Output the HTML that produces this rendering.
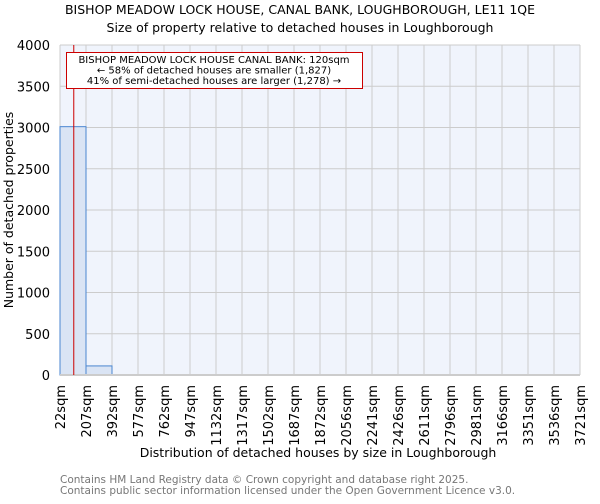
<!DOCTYPE html>
<html><head><meta charset="utf-8"><style>
body{margin:0;background:#fff;width:600px;height:500px;overflow:hidden;font-family:"DejaVu Sans","Liberation Sans",sans-serif}
</style></head><body>
<svg id="c" width="600" height="500" xmlns="http://www.w3.org/2000/svg">
<text x="300" y="14" text-anchor="middle" font-size="12.5" fill="#000">BISHOP MEADOW LOCK HOUSE, CANAL BANK, LOUGHBOROUGH, LE11 1QE</text>
<text x="300" y="32" text-anchor="middle" font-size="12.5" fill="#000">Size of property relative to detached houses in Loughborough</text>
<rect x="60" y="45" width="520" height="330" fill="#f0f4fc"/>
<g id="grid"></g><g id="bars"></g><g id="axes"></g>
<text transform="translate(13,210) rotate(-90)" text-anchor="middle" font-size="12.5" fill="#000">Number of detached properties</text>
<text x="318" y="457" text-anchor="middle" font-size="12.5" fill="#000">Distribution of detached houses by size in Loughborough</text>
<text x="60" y="483" font-size="10.5" fill="#777">Contains HM Land Registry data © Crown copyright and database right 2025.</text>
<text x="60" y="494" font-size="10.5" fill="#777">Contains public sector information licensed under the Open Government Licence v3.0.</text>
</svg>
<script>
const binEdges=[22,207,392,577,762,947,1132,1317,1502,1687,1872,2056,2241,2426,2611,2796,2981,3166,3351,3536,3721];
const tickLabels=["22sqm","207sqm","392sqm","577sqm","762sqm","947sqm","1132sqm","1317sqm","1502sqm","1687sqm","1872sqm","2056sqm","2241sqm","2426sqm","2611sqm","2796sqm","2981sqm","3166sqm","3351sqm","3536sqm","3721sqm"];
const counts=[3010,110,0,0,0,0,0,0,0,0,0,0,0,0,0,0,0,0,0,0];
const yTicks=[0,500,1000,1500,2000,2500,3000,3500,4000];
const propertySize=120;
const NS="http://www.w3.org/2000/svg";
const X0=60,X1=580,Y0=375,Y1=45,YMAX=4000;
const nb=counts.length,bw=(X1-X0)/nb;
function xi(i){return X0+i*bw;}
function xv(v){let i=0;while(i<binEdges.length-2&&v>binEdges[i+1])i++;return xi(i)+(v-binEdges[i])/(binEdges[i+1]-binEdges[i])*bw;}
function y(v){return Y0-(v/YMAX)*(Y0-Y1);}
function mk(t,a,p){const e=document.createElementNS(NS,t);for(const k in a)e.setAttribute(k,a[k]);p.appendChild(e);return e;}
const grid=document.getElementById('grid'),bars=document.getElementById('bars'),axes=document.getElementById('axes');
for(let i=0;i<=nb;i++){const l=mk('line',{x1:xi(i),x2:xi(i),y1:Y1,y2:Y0,stroke:'#cccccc','stroke-width':1},grid);

}
yTicks.forEach(v=>{const l=mk('line',{x1:X0,x2:X1,y1:y(v),y2:y(v),stroke:'#cccccc','stroke-width':1},grid);


const t=mk('text',{x:X0-10,y:y(v)+5,'text-anchor':'end','font-size':13,fill:'#000'},axes);t.textContent=v;

});
counts.forEach((c,i)=>{if(c<=0)return;const r=mk('rect',{x:xi(i),y:y(c),width:bw,height:Y0-y(c),fill:'#dae4f4',stroke:'#4a86d0','stroke-width':1},bars);

});
mk('line',{x1:X0,x2:X1,y1:Y0,y2:Y0,stroke:'#cccccc','stroke-width':2},axes);
tickLabels.forEach((s,i)=>{const t=mk('text',{transform:`translate(${xi(i)+5},${Y0+10}) rotate(-90)`,'text-anchor':'end','font-size':13,fill:'#000'},axes);t.textContent=s;

});
const px=xv(propertySize);
const ml=mk('line',{x1:px,x2:px,y1:Y1,y2:Y0,stroke:'#cc0000','stroke-width':1},axes);


const g=mk('g',{},axes);


mk('rect',{x:66.5,y:52.5,width:296,height:36,fill:'#fff',stroke:'#cc0000','stroke-width':1},g);
["BISHOP MEADOW LOCK HOUSE CANAL BANK: 120sqm","← 58% of detached houses are smaller (1,827)","41% of semi-detached houses are larger (1,278) →"].forEach((s,i)=>{const t=mk('text',{x:214,y:63+i*10.5,'text-anchor':'middle','font-size':10,fill:'#000'},g);t.textContent=s;

});
</script>
</body></html>
